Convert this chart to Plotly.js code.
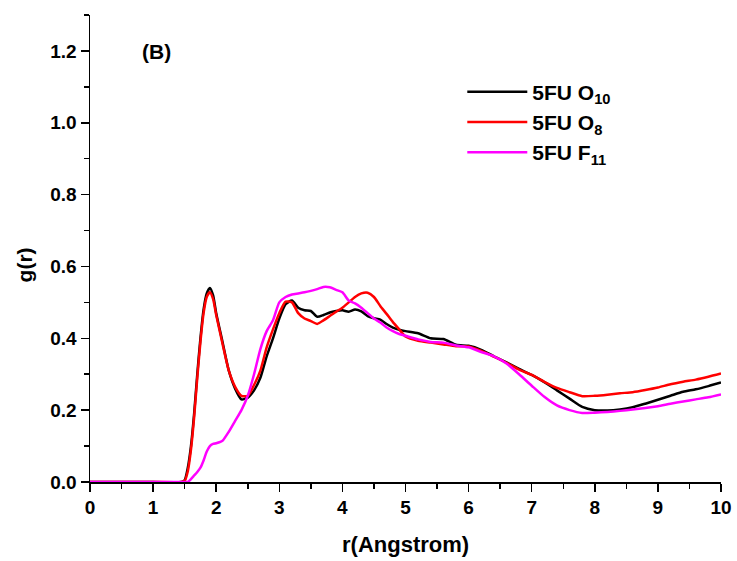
<!DOCTYPE html>
<html>
<head>
<meta charset="utf-8">
<script src="https://cdn.plot.ly/plotly-3.0.1.min.js"></script>
<style>html,body{margin:0;padding:0;background:#fff;}#chart{width:737px;height:561px;}</style>
</head>
<body>
<div id="chart"></div>
<script>
const r = [0, 1.0, 1.45, 1.5, 1.55, 1.6, 1.65, 1.7, 1.75, 1.8, 1.85, 1.9, 1.95, 2.0, 2.1, 2.2, 2.3, 2.4, 2.5, 2.6, 2.7, 2.8, 2.9, 3.0, 3.1, 3.2, 3.3, 3.4, 3.5, 3.6, 3.7, 3.8, 3.9, 4.0, 4.1, 4.2, 4.3, 4.4, 4.5, 4.6, 4.7, 4.8, 4.9, 5.0, 5.2, 5.4, 5.6, 5.8, 6.0, 6.2, 6.4, 6.6, 6.8, 7.0, 7.2, 7.4, 7.6, 7.8, 8.0, 8.2, 8.4, 8.6, 8.8, 9.0, 9.2, 9.4, 9.6, 9.8, 10.0];

const gO10 = [0, 0, 0, 0.005, 0.04, 0.10, 0.19, 0.30, 0.40, 0.48, 0.525, 0.54, 0.52, 0.47, 0.39, 0.31, 0.26, 0.23, 0.235, 0.255, 0.29, 0.35, 0.40, 0.455, 0.495, 0.505, 0.485, 0.478, 0.476, 0.46, 0.465, 0.472, 0.476, 0.478, 0.474, 0.48, 0.475, 0.462, 0.456, 0.452, 0.44, 0.43, 0.424, 0.42, 0.414, 0.40, 0.398, 0.382, 0.379, 0.368, 0.350, 0.333, 0.315, 0.298, 0.278, 0.255, 0.232, 0.209, 0.200, 0.199, 0.202, 0.208, 0.218, 0.229, 0.240, 0.251, 0.258, 0.267, 0.277];

const gO8 = [0, 0, 0, 0.003, 0.03, 0.09, 0.18, 0.29, 0.39, 0.47, 0.515, 0.528, 0.51, 0.465, 0.385, 0.31, 0.265, 0.24, 0.24, 0.27, 0.31, 0.375, 0.425, 0.47, 0.502, 0.50, 0.47, 0.455, 0.448, 0.44, 0.45, 0.462, 0.474, 0.485, 0.50, 0.515, 0.525, 0.527, 0.515, 0.49, 0.468, 0.445, 0.425, 0.405, 0.393, 0.388, 0.383, 0.378, 0.377, 0.365, 0.349, 0.332, 0.313, 0.298, 0.279, 0.262, 0.25, 0.239, 0.240, 0.243, 0.247, 0.250, 0.256, 0.263, 0.272, 0.279, 0.285, 0.293, 0.302];

const gF11 = [0, 0, 0, 0, 0, 0.008, 0.018, 0.028, 0.04, 0.06, 0.085, 0.10, 0.106, 0.108, 0.115, 0.14, 0.17, 0.20, 0.24, 0.30, 0.37, 0.42, 0.45, 0.50, 0.515, 0.522, 0.525, 0.528, 0.532, 0.537, 0.543, 0.542, 0.535, 0.528, 0.505, 0.497, 0.485, 0.47, 0.455, 0.444, 0.43, 0.42, 0.412, 0.407, 0.397, 0.39, 0.388, 0.38, 0.375, 0.362, 0.35, 0.33, 0.30, 0.268, 0.237, 0.213, 0.20, 0.192, 0.193, 0.195, 0.198, 0.202, 0.206, 0.211, 0.218, 0.224, 0.23, 0.236, 0.244];

const seriesNames = ['5FU O<sub>10</sub>', '5FU O<sub>8</sub>', '5FU F<sub>11</sub>'];
const seriesColors = ['#000000', '#ff0000', '#ff00ff'];
const seriesValues = [gO10, gO8, gF11];
const xTitle = 'r(Angstrom)';
const yTitle = 'g(r)';
const panelLabel = '(B)';

const FONT = 'Arial, "Liberation Sans", sans-serif';

const traces = seriesValues.map((v, i) => ({
  x: r, y: v, type: 'scatter', mode: 'lines', name: seriesNames[i],
  line: {color: seriesColors[i], width: 2.5, shape: 'spline', smoothing: 0.6}
}));

const axisCommon = {
  showline: true, linecolor: '#000', linewidth: 1.5,
  ticks: 'outside', ticklen: 8, tickwidth: 1.5, tickcolor: '#000',
  showgrid: false, zeroline: false, mirror: false,
  tickfont: {family: FONT, size: 19, color: '#000', weight: 'bold'}
};

const layout = {
  width: 737, height: 561,
  margin: {l: 90, r: 16, t: 15, b: 79},
  paper_bgcolor: '#fff', plot_bgcolor: '#fff',
  showlegend: true,
  legend: {
    x: 0.590, y: 0.879, xanchor: 'left', yanchor: 'top',
    bgcolor: 'rgba(0,0,0,0)', borderwidth: 0,
    itemwidth: 60, tracegroupgap: 0,
    font: {family: FONT, size: 21, color: '#000', weight: 'bold'}
  },
  xaxis: Object.assign({}, axisCommon, {
    range: [0, 10], dtick: 1, tick0: 0,
    minor: {dtick: 0.5, ticklen: 5, tickwidth: 1.5, tickcolor: '#000', ticks: 'outside'}
  }),
  yaxis: Object.assign({}, axisCommon, {
    range: [0, 1.3], dtick: 0.2, tick0: 0, tickformat: '.1f',
    minor: {dtick: 0.1, ticklen: 5, tickwidth: 1.5, tickcolor: '#000', ticks: 'outside'}
  }),
  annotations: [
    {
      text: panelLabel, xref: 'paper', yref: 'paper', x: 0.106, y: 0.921,
      showarrow: false, xanchor: 'center', yanchor: 'middle',
      font: {family: FONT, size: 21, color: '#000', weight: 'bold'}
    },
    {
      text: xTitle, xref: 'paper', yref: 'paper', x: 0.5, y: -0.133,
      showarrow: false, xanchor: 'center', yanchor: 'middle',
      font: {family: FONT, size: 22, color: '#000', weight: 'bold'}
    },
    {
      text: yTitle, xref: 'paper', yref: 'paper', x: -0.1046, y: 0.466,
      showarrow: false, xanchor: 'center', yanchor: 'middle', textangle: -90,
      font: {family: FONT, size: 21, color: '#000', weight: 'bold'}
    }
  ]
};

Plotly.newPlot('chart', traces, layout, {staticPlot: true, displayModeBar: false});
</script>
</body>
</html>
